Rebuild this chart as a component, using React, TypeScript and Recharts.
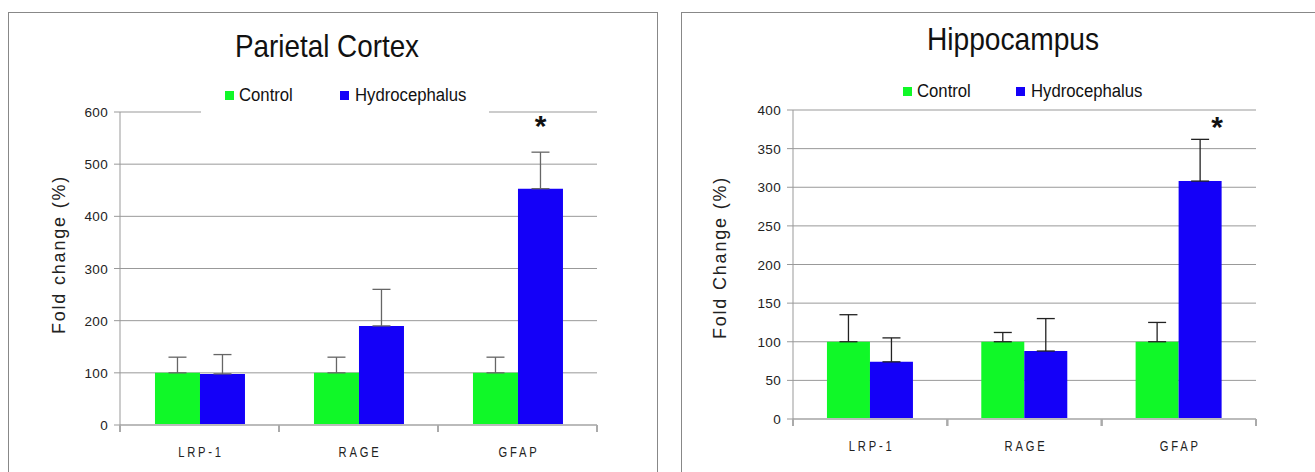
import { Bar, BarChart, CartesianGrid, ErrorBar, LabelList, XAxis, YAxis } from "recharts";

const categories = ["LRP-1", "RAGE", "GFAP"];
const seriesNames = ["Control", "Hydrocephalus"];

const parietalControl = [100, 100, 100];
const parietalControlErr = [30, 30, 30];
const parietalHydro = [98, 190, 453];
const parietalHydroErr = [37, 70, 70];
const parietalSig = ["", "", "*"];
const parietalStarAt = [0, 0, 580];
const parietalTicks = [0, 100, 200, 300, 400, 500, 600];

const hippoControl = [100, 100, 100];
const hippoControlErr = [35, 12, 25];
const hippoHydro = [74, 88, 308];
const hippoHydroErr = [31, 42, 54];
const hippoSig = ["", "", "*"];
const hippoStarAt = [0, 0, 383];
const hippoTicks = [0, 50, 100, 150, 200, 250, 300, 350, 400];

const GREEN = "#10f828";
const BLUE = "#1400f8";
const SANS = "'Liberation Sans', Arial, sans-serif";

function buildRows(control: number[], cErr: number[], hydro: number[], hErr: number[], sig: string[], starAt: number[]) {
  return categories.map((name, i) => ({
    name,
    control: control[i],
    controlErr: [0, cErr[i]],
    hydro: hydro[i],
    hydroErr: [0, hErr[i]],
    sig: sig[i],
    starAt: starAt[i],
  }));
}

const parietalRows = buildRows(parietalControl, parietalControlErr, parietalHydro, parietalHydroErr, parietalSig, parietalStarAt);
const hippoRows = buildRows(hippoControl, hippoControlErr, hippoHydro, hippoHydroErr, hippoSig, hippoStarAt);

// narrow-looking text: plain Liberation Sans squeezed horizontally
function NarrowText({ x, y, size, sx, anchor = "start", spacing = 0, fill = "#111", children }: any) {
  return (
    <text
      transform={`translate(${x},${y}) scale(${sx},1)`}
      textAnchor={anchor}
      fontFamily={SANS}
      fontSize={size}
      letterSpacing={spacing}
      fill={fill}
    >
      {children}
    </text>
  );
}

// category label at the centre, Excel-style tick marks at the category edges
function CatTick(props: any) {
  const { x, y, payload, width } = props;
  const half = payload.offset || width / categories.length / 2;
  const top = y - 8;
  return (
    <g>
      <line x1={x - half} x2={x - half} y1={top} y2={top + 7} stroke="#aaa" strokeWidth={2} />
      <line x1={x + half} x2={x + half} y1={top} y2={top + 7} stroke="#aaa" strokeWidth={2} />
      <NarrowText x={x + 1.5} y={top + 32} size={14} sx={0.8} spacing={3.5} anchor="middle" fill="#222">
        {payload.value}
      </NarrowText>
    </g>
  );
}

function YTick(props: any) {
  const { x, y, payload } = props;
  return (
    <text x={x} y={y + 5} textAnchor="end" fontFamily={SANS} fontSize={13.5} letterSpacing={0.3} fill="#222">
      {payload.value}
    </text>
  );
}

type PanelProps = {
  rows: ReturnType<typeof buildRows>;
  ticks: number[];
  yLabel: string;
  width: number;
  margin: { top: number; right: number; bottom: number; left: number };
  yWidth: number;
  labelX: number;
  labelDy: number;
  errColor: string;
  starDx: number;
};

function Panel({ rows, ticks, yLabel, width, margin, yWidth, labelX, labelDy, errColor, starDx }: PanelProps) {
  const renderStar = (props: any) => {
    const { x, y, width: w, height: h, index } = props;
    const row = rows[index];
    if (!row || !row.sig) return null;
    const k = h / row.hydro;
    const cy = y + h - row.starAt * k;
    return (
      <text x={x + w / 2 + starDx} y={cy + 14} textAnchor="middle" fontFamily={SANS} fontWeight="bold" fontSize={30} fill="#111">
        {row.sig}
      </text>
    );
  };
  const renderYLabel = (props: any) => {
    const vb = props.viewBox;
    const cy = vb.y + vb.height / 2 + labelDy;
    return (
      <text
        transform={`translate(${labelX},${cy}) rotate(-90)`}
        textAnchor="middle"
        dominantBaseline="central"
        fontFamily={SANS}
        fontSize={18}
        letterSpacing={1.8}
        fill="#222"
      >
        {yLabel}
      </text>
    );
  };
  return (
    <BarChart width={width} height={472} data={rows} margin={margin} barCategoryGap="22%" barGap={0}>
      <CartesianGrid horizontal vertical={false} stroke="#999" />
      <XAxis
        dataKey="name"
        height={30}
        interval={0}
        axisLine={{ stroke: "#bbb", strokeWidth: 2 }}
        tickLine={false}
        tickSize={0}
        tickMargin={8}
        tick={<CatTick />}
      />
      <YAxis
        domain={[0, ticks[ticks.length - 1]]}
        ticks={ticks}
        interval={0}
        width={yWidth}
        axisLine={{ stroke: "#999" }}
        tickLine={{ stroke: "#999" }}
        tickSize={6}
        tickMargin={6}
        tick={<YTick />}
        label={{ value: yLabel, content: renderYLabel }}
      />
      <Bar dataKey="control" name={seriesNames[0]} fill={GREEN} isAnimationActive={false}>
        <ErrorBar dataKey="controlErr" width={9} stroke={errColor} strokeWidth={1.3} />
      </Bar>
      <Bar dataKey="hydro" name={seriesNames[1]} fill={BLUE} isAnimationActive={false}>
        <ErrorBar dataKey="hydroErr" width={9} stroke={errColor} strokeWidth={1.3} />
        <LabelList dataKey="sig" content={renderStar} />
      </Bar>
    </BarChart>
  );
}

const legendColors = [GREEN, BLUE];

function Legend2({ swatchX, textX, baseline }: { swatchX: number[]; textX: number[]; baseline: number }) {
  return (
    <g>
      {seriesNames.map((n, i) => (
        <g key={n}>
          <rect x={swatchX[i]} y={baseline - 10} width={9} height={9} fill={legendColors[i]} />
          <NarrowText x={textX[i]} y={baseline} size={19} sx={0.88}>
            {n}
          </NarrowText>
        </g>
      ))}
    </g>
  );
}

export default function App() {
  return (
    <div style={{ position: "absolute", left: 0, top: 0, width: 1315, height: 472, overflow: "hidden", background: "#fff" }}>
      <div style={{ position: "absolute", left: 8, top: 12, width: 648, height: 500, border: "1px solid #888" }} />
      <div style={{ position: "absolute", left: 681, top: 12, width: 700, height: 500, border: "1px solid #888" }} />

      <div style={{ position: "absolute", left: 0, top: 0 }}>
        <Panel
          rows={parietalRows}
          ticks={parietalTicks}
          yLabel="Fold change (%)"
          width={657}
          margin={{ top: 112, right: 60, bottom: 17, left: 10 }}
          yWidth={110}
          labelX={59}
          labelDy={-14}
          errColor="#666"
          starDx={0}
        />
      </div>
      <div style={{ position: "absolute", left: 681, top: 0 }}>
        <Panel
          rows={hippoRows}
          ticks={hippoTicks}
          yLabel="Fold Change (%)"
          width={634}
          margin={{ top: 110, right: 59, bottom: 23, left: 10 }}
          yWidth={102}
          labelX={39}
          labelDy={-7}
          errColor="#222"
          starDx={17}
        />
      </div>

      <svg width={1315} height={472} style={{ position: "absolute", left: 0, top: 0, pointerEvents: "none" }}>
        <NarrowText x={327} y={57} size={32} sx={0.87} anchor="middle">
          Parietal Cortex
        </NarrowText>
        <NarrowText x={1013} y={50} size={32} sx={0.88} anchor="middle">
          Hippocampus
        </NarrowText>
        <rect x={201} y={79} width={288} height={35} fill="#fff" />
        <Legend2 swatchX={[225, 340]} textX={[239, 355]} baseline={101} />
        <Legend2 swatchX={[903, 1016]} textX={[917, 1031]} baseline={97} />
      </svg>
    </div>
  );
}
